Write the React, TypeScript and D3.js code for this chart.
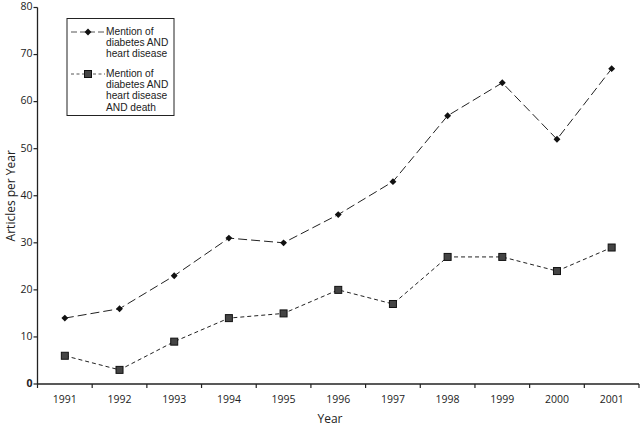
import { useEffect, useRef } from 'react';
import * as d3 from 'd3';

// chart values
const years = ['1991', '1992', '1993', '1994', '1995', '1996', '1997', '1998', '1999', '2000', '2001'];
const heartDisease = [14, 16, 23, 31, 30, 36, 43, 57, 64, 52, 67];
const heartDiseaseDeath = [6, 3, 9, 14, 15, 20, 17, 27, 27, 24, 29];
const yTicks = [0, 10, 20, 30, 40, 50, 60, 70, 80];
const legendLabels = [
  ['Mention of', 'diabetes AND', 'heart disease'],
  ['Mention of', 'diabetes AND', 'heart disease', 'AND death'],
];

const W = 640;
const H = 429;
const FONT = "'Open Sans', 'Noto Sans', sans-serif";
// tighter line metrics for the closely stacked legend lines
const LEGEND_FONT = "'Liberation Sans', Arial, sans-serif";

const App = () => {
  const svgRef = useRef<SVGSVGElement | null>(null);

  useEffect(() => {
    const svg = d3.select(svgRef.current);
    svg.selectAll('*').remove();

    const x = d3.scaleBand<string>().domain(years).range([37.5, 639]);
    const y = d3.scaleLinear().domain([0, 80]).range([384, 7.5]);
    const cx = (yr: string) => (x(yr) ?? 0) + x.bandwidth() / 2;

    // y axis
    const yAxis = svg.append('g').attr('transform', 'translate(37.5,0)');
    yAxis.append('line').attr('y1', y(0)).attr('y2', y(80)).attr('stroke', '#222').attr('stroke-width', 1.3);
    yTicks.forEach(t => {
      yAxis.append('line').attr('x1', -4).attr('x2', 0).attr('y1', y(t)).attr('y2', y(t))
        .attr('stroke', '#222').attr('stroke-width', 1.2);
      yAxis.append('text').attr('x', -5).attr('y', y(t)).attr('text-anchor', 'end')
        .attr('dominant-baseline', 'middle').attr('font-size', 10.5).attr('fill', '#222')
        .attr('font-family', FONT).attr('font-weight', t === 0 ? 700 : 400).text(t);
    });

    // x axis
    const xAxis = svg.append('g').attr('transform', `translate(0,${y(0)})`);
    xAxis.append('line').attr('x1', 37.5).attr('x2', 639).attr('stroke', '#222').attr('stroke-width', 1.3);
    [...years.map(yr => x(yr) ?? 0), 639].forEach(px => {
      xAxis.append('line').attr('x1', px).attr('x2', px).attr('y1', 0).attr('y2', 4)
        .attr('stroke', '#222').attr('stroke-width', 1.2);
    });
    years.forEach(yr => {
      xAxis.append('text').attr('x', cx(yr)).attr('y', 16).attr('text-anchor', 'middle')
        .attr('dominant-baseline', 'middle').attr('font-size', 10.5).attr('fill', '#222')
        .attr('font-family', FONT).text(yr);
    });

    // axis titles
    svg.append('text').attr('x', 330).attr('y', 420).attr('text-anchor', 'middle')
      .attr('dominant-baseline', 'middle').attr('font-size', 12).attr('fill', '#222')
      .attr('font-family', FONT).text('Year');
    svg.append('text').attr('transform', `translate(12,${y(40)}) rotate(-90)`)
      .attr('text-anchor', 'middle').attr('dominant-baseline', 'middle').attr('font-size', 12)
      .attr('fill', '#222').attr('font-family', FONT).text('Articles per Year');

    const line = d3.line<number>().x((_, i) => cx(years[i])).y(d => y(d));

    // series 1: long dashes, diamonds
    svg.append('path').datum(heartDisease).attr('d', line).attr('fill', 'none')
      .attr('stroke', '#222').attr('stroke-width', 1).attr('stroke-dasharray', '9,4');
    const diamond = d3.symbol().type(d3.symbolDiamond2).size(30);
    heartDisease.forEach((v, i) => {
      svg.append('path').attr('d', diamond()).attr('transform', `translate(${cx(years[i])},${y(v)})`)
        .attr('fill', '#111');
    });

    // series 2: short dashes, squares
    svg.append('path').datum(heartDiseaseDeath).attr('d', line).attr('fill', 'none')
      .attr('stroke', '#222').attr('stroke-width', 1).attr('stroke-dasharray', '4,3');
    heartDiseaseDeath.forEach((v, i) => {
      svg.append('rect').attr('x', cx(years[i]) - 3.5).attr('y', y(v) - 3.5)
        .attr('width', 7).attr('height', 7).attr('fill', '#444').attr('stroke', '#111').attr('stroke-width', 1);
    });

    // legend
    const lg = svg.append('g');
    lg.append('rect').attr('x', 67).attr('y', 18.5).attr('width', 107).attr('height', 97)
      .attr('fill', '#fff').attr('stroke', '#222').attr('stroke-width', 1);
    const rows = [32, 74];
    rows.forEach((ry, k) => {
      lg.append('line').attr('x1', 71).attr('x2', 105).attr('y1', ry).attr('y2', ry)
        .attr('stroke', '#555').attr('stroke-width', 1).attr('stroke-dasharray', k === 0 ? '6,3' : '3,2.5');
      if (k === 0) {
        lg.append('path').attr('d', diamond()).attr('transform', `translate(88,${ry})`).attr('fill', '#111');
      } else {
        lg.append('rect').attr('x', 84.5).attr('y', ry - 3.5).attr('width', 7).attr('height', 7)
          .attr('fill', '#444').attr('stroke', '#111');
      }
      legendLabels[k].forEach((txt, j) => {
        lg.append('text').attr('x', 106).attr('y', ry + j * 11.3).attr('dominant-baseline', 'middle')
          .attr('font-size', 10.2).attr('fill', '#222').attr('font-family', LEGEND_FONT).text(txt);
      });
    });
  }, []);

  return (
    <div style={{ position: 'absolute', left: 0, top: 0 }}>
      <svg ref={svgRef} width={W} height={H} style={{ display: 'block', background: '#fff' }} />
    </div>
  );
};

export default App;
